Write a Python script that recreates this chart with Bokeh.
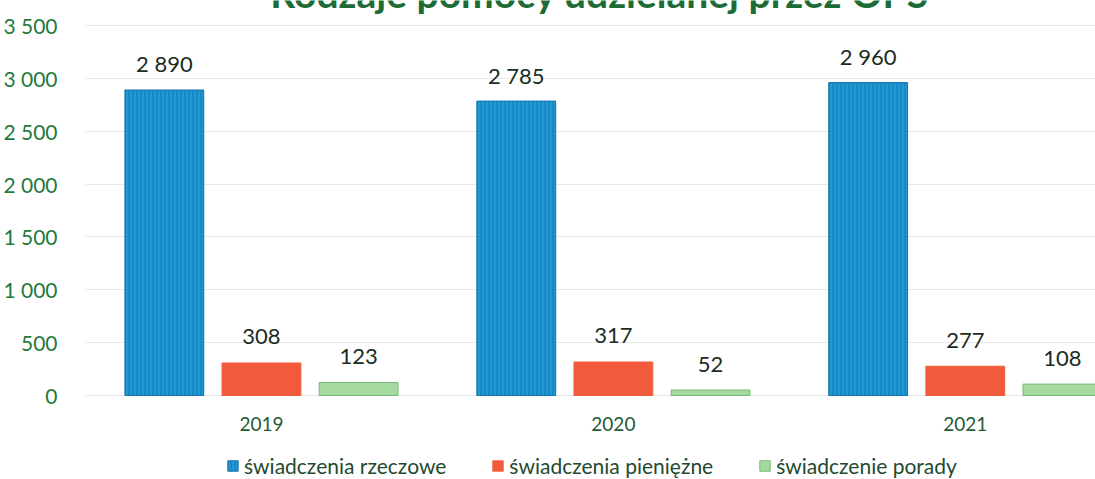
from bokeh.plotting import figure
from bokeh.models import Range1d, FixedTicker, Legend, LegendItem, Label, ColumnDataSource
from bokeh.core.properties import value
from bokeh.embed import file_html
from bokeh.resources import INLINE

title_text = "Rodzaje pomocy udzielanej przez OPS"
years = ["2019", "2020", "2021"]
rzeczowe = [2890, 2785, 2960]
pieniezne = [308, 317, 277]
porady = [123, 52, 108]
series_names = ["świadczenia rzeczowe", "świadczenia pieniężne", "świadczenie porady"]
y_ticks = [0, 500, 1000, 1500, 2000, 2500, 3000, 3500]

colors = ["#1a86cc", "#f25a3c", "#a6dba0"]
lines = ["#1670ae", "#f0603e", "#78b878"]
hatches = ["|", " ", " "]
hatch_colors = ["#22b6c8", None, None]
FONT = "Lato"

H = 479
px_per_unit = 370 / 3500.0
frame_top_px = 25
zero_px = 395
y_lo = -(H - zero_px) / px_per_unit
y_hi = 3500 + frame_top_px / px_per_unit

p = figure(width=1095, height=H, output_backend="svg", toolbar_location=None,
           x_range=Range1d(0, 2.87), y_range=Range1d(y_lo, y_hi),
           min_border_left=85, min_border_right=0, min_border_top=0, min_border_bottom=0)
p.outline_line_color = None
p.background_fill_color = "white"
p.border_fill_color = "white"

bar_w = 0.224
step = 0.276
offsets = [-step, 0.0, step]
series = [rzeczowe, pieniezne, porady]
items = []
for k, vals in enumerate(series):
    xs = [i + 0.5 + offsets[k] for i in range(len(years))]
    src = ColumnDataSource(dict(x=xs, top=vals, lab=[f"{v:,}".replace(",", " ") for v in vals]))
    kw = {}
    if hatch_colors[k]:
        kw = dict(hatch_pattern=hatches[k], hatch_color=hatch_colors[k], hatch_alpha=0.55,
                  hatch_scale=4, hatch_weight=1.5)
    r = p.vbar(x="x", top="top", bottom=0, width=bar_w, source=src, fill_color=colors[k],
               line_color=lines[k], line_width=1, **kw)
    p.text(x="x", y="top", text="lab", source=src, text_align="center",
           text_baseline="middle", y_offset=-26, text_font=value(FONT),
           text_font_size="22px", text_color="#1b2c1e")
    items.append(LegendItem(label=series_names[k], renderers=[r]))

# axes
p.xaxis.fixed_location = 0
p.xaxis.ticker = FixedTicker(ticks=[i + 0.5 for i in range(len(years))])
p.xaxis.major_label_overrides = {i + 0.5: y for i, y in enumerate(years)}
p.xaxis.axis_line_color = None
p.xaxis.major_tick_line_color = None
p.xaxis.minor_tick_line_color = None
p.xaxis.major_label_standoff = 15
p.xaxis.major_label_text_font = FONT
p.xaxis.major_label_text_font_size = "19px"
p.xaxis.major_label_text_color = "#1f5a33"

p.yaxis.ticker = FixedTicker(ticks=y_ticks)
p.yaxis.major_label_overrides = {t: f"{t:,}".replace(",", " ") for t in y_ticks}
p.yaxis.axis_line_color = None
p.yaxis.major_tick_line_color = None
p.yaxis.minor_tick_line_color = None
p.yaxis.major_label_standoff = 22
p.yaxis.major_label_text_font = FONT
p.yaxis.major_label_text_font_size = "21px"
p.yaxis.major_label_text_color = "#1f7a3c"

p.xgrid.grid_line_color = None
p.ygrid.grid_line_color = "#e8e8e8"
p.ygrid.grid_line_width = 1

legend = Legend(items=items, orientation="horizontal", location=(141, 1),
                glyph_width=13, glyph_height=13, label_standoff=5, spacing=45,
                label_text_font=FONT, label_text_font_size="21px",
                label_text_color="#1f4a2f", border_line_color=None,
                background_fill_alpha=0, padding=2, margin=0)
p.add_layout(legend)

title = Label(x=1.461, y=3500 + (frame_top_px + 8) / px_per_unit, x_units="data", y_units="data",
              text=title_text, text_align="center", text_baseline="alphabetic",
              text_font=FONT, text_font_size="39px", text_font_style="bold",
              text_color="#1d6b35")
p.add_layout(title)

open("out.html", "w").write(file_html(p, INLINE))
